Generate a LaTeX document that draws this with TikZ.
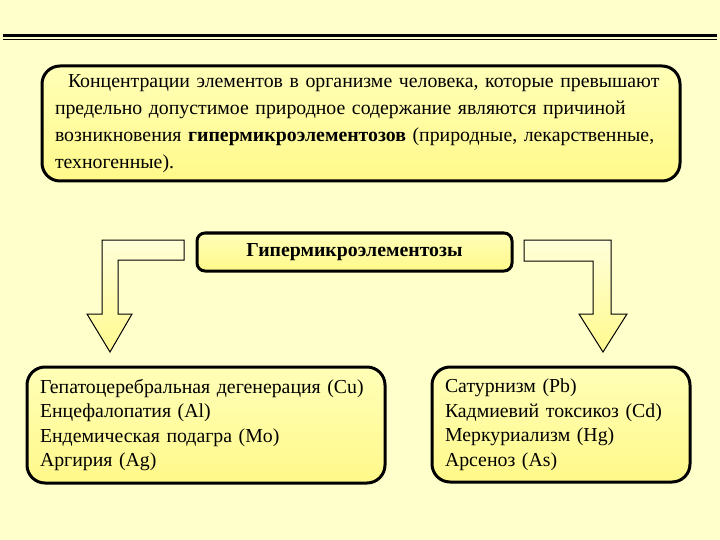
\documentclass[tikz,border=0pt]{standalone}
\usepackage{fontspec}
\setmainfont{Liberation Serif}
\usetikzlibrary{positioning}
\newlength{\du}
\setlength{\du}{1pt}
\definecolor{bgcolor}{rgb}{1.000000, 1.000000, 0.800000}
\definecolor{boxtop}{rgb}{1.000000, 1.000000, 0.720000}
\definecolor{boxbottom}{rgb}{1.000000, 0.975000, 0.540000}
\definecolor{arrowtop}{rgb}{1.000000, 1.000000, 0.850000}
\definecolor{arrowbottom}{rgb}{1.000000, 0.980000, 0.560000}
\tikzset{
  textbox/.style={draw=black, line width=3\du, top color=boxtop, bottom color=boxbottom,
    rounded corners=18\du, inner xsep=13\du, inner ysep=0pt, align=left,
    font=\fontsize{19.8}{24.5}\selectfont},
  blockarrow/.style={draw=black, line width=1\du, top color=arrowtop, bottom color=arrowbottom},
}

\begin{document}
\begin{tikzpicture}[x=1\du, y=-1\du]
\fill[bgcolor] (0,0) rectangle (720,540);
\useasboundingbox (0,0) rectangle (720,540);
% double rule on top
\draw[line width=3\du] (3,35.5)--(717,35.5);
\draw[line width=1\du] (3,39.5)--(717,39.5);
% text boxes
\node[textbox, minimum width=638\du, minimum height=115\du, text width=612\du,
  font=\fontsize{19.8}{27}\selectfont] (cause) at (361,123.5)
  {\hspace*{13\du}Концентрации элементов в организме человека, которые превышают\\
   предельно допустимое природное содержание являются причиной\\
   возникновения \textbf{гипермикроэлементозов} (природные, лекарственные,\\
   техногенные).};
\node[textbox, rounded corners=8\du, minimum width=315\du, minimum height=38\du,
  align=center] (hyper) at (354.5,252) {\textbf{Гипермикроэлементозы}};
\node[textbox, minimum width=358\du, minimum height=116\du, text width=332\du] (left) at (206,425)
  {Гепатоцеребральная дегенерация (Cu)\\
   Енцефалопатия (Al)\\
   Ендемическая подагра (Mo)\\
   Аргирия (Ag)};
\node[textbox, minimum width=258\du, minimum height=115\du, text width=232\du] (right) at (561,424.5)
  {Сатурнизм (Pb)\\
   Кадмиевий токсикоз (Cd)\\
   Меркуриализм (Hg)\\
   Арсеноз (As)};
% block arrows
\draw[blockarrow] (184,240)--(102,240)--(102,314)--(87,314)--(110,352)--(132,314)--(118,314)--(118,260)--(184,260)--cycle;
\draw[blockarrow] (524,240)--(611,240)--(611,314)--(627,314)--(603,352)--(579,314)--(593,314)--(593,261)--(524,261)--cycle;
\end{tikzpicture}
\end{document}
